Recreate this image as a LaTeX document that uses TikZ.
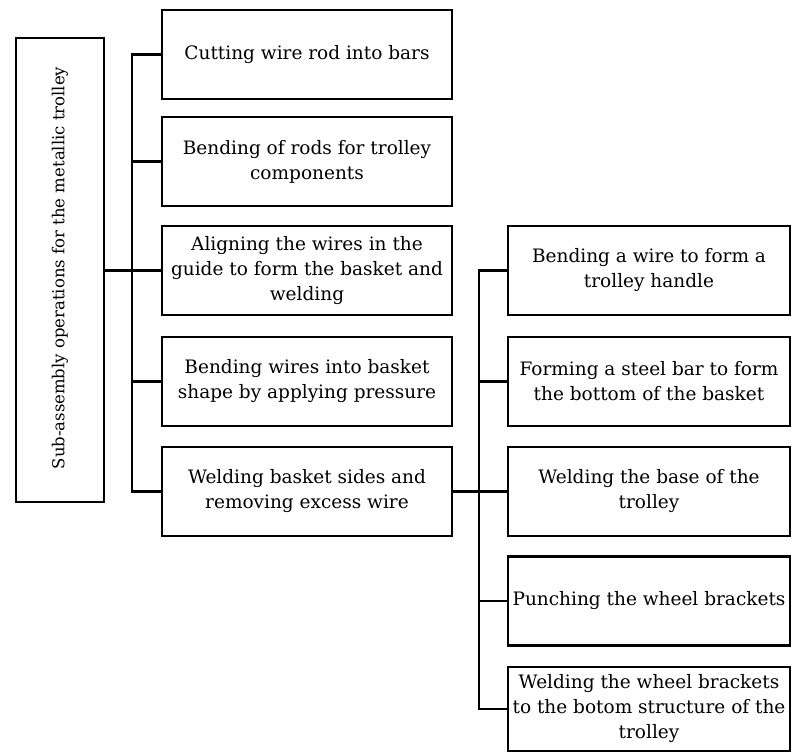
\documentclass[tikz,border=0pt]{standalone}
\usepackage{fontspec}
\setmainfont{DejaVu Serif}
\begin{document}
\begin{tikzpicture}[x=1pt,y=-1pt,
  opbox/.style={draw, line width=2.4pt, rectangle, inner sep=0pt, align=center,
    font=\fontsize{18.5}{25}\selectfont},
  leftbox/.style={opbox, minimum width=88pt, minimum height=464pt},
  stepA/.style={opbox, minimum width=290pt, minimum height=89pt},
  stepB/.style={opbox, minimum width=282pt, minimum height=89pt},
  link/.style={draw, line width=2.4pt}
]
\useasboundingbox (0,0) rectangle (792,754);

% main assembly box, text rotated
\node[leftbox] (L) at (60,270) {};
\node[rotate=90, font=\fontsize{16.5}{25}\selectfont] (Lt) at (60,268) {Sub-assembly operations for the metallic trolley};

% first column of operations
\node[stepA] (c1) at (307,54.5) {Cutting wire rod into bars};
\node[stepA] (c2) at (307,161.5) {Bending of rods for trolley\\components};
\node[stepA] (c3) at (307,270.5) {Aligning the wires in the\\guide to form the basket and\\welding};
\node[stepA] (c4) at (307,381.5) {Bending wires into basket\\shape by applying pressure};
\node[stepA] (c5) at (307,491.5) {Welding basket sides and\\removing excess wire};

% second column of operations
\node[stepB] (d1) at (649,270.5) {Bending a wire to form a\\trolley handle};
\node[stepB] (d2) at (649,381.5) {Forming a steel bar to form\\the bottom of the basket};
\node[stepB] (d3) at (649,491.5) {Welding the base of the\\trolley};
\node[stepB] (d4) at (649,601) {Punching the wheel brackets};
\node[stepB, minimum height=84pt] (d5) at (649,709) {Welding the wheel brackets\\to the botom structure of the\\trolley};

% junctions
\coordinate (j1) at (132,270.5);
\coordinate (j2) at (479,491.5);

% connectors of the first column
\draw[link] (L.east |- j1) -- (j1);
\draw[link] (c1.west) -| (j1);
\draw[link] (c5.west) -| (j1);
\draw[link] (c2.west) -- (c2.west -| j1);
\draw[link] (c3.west) -- (c3.west -| j1);
\draw[link] (c4.west) -- (c4.west -| j1);

% connectors of the second column
\draw[link] (c5.east) -- (d3.west);
\draw[link] (d1.west) -| (j2);
\draw[link] (d5.west) -| (j2);
\draw[link] (d2.west) -- (d2.west -| j2);
\draw[link] (d4.west) -- (d4.west -| j2);
\end{tikzpicture}
\end{document}
